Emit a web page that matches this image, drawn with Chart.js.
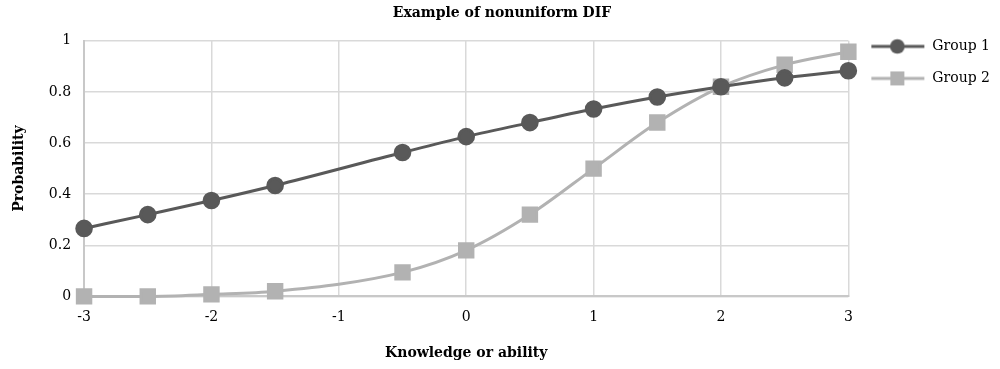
<!DOCTYPE html>
<html><head><meta charset="utf-8">
<script src="https://cdn.jsdelivr.net/npm/chart.js@4"></script>
<style>html,body{margin:0;padding:0;background:#fff}#wrap{width:1000px;height:369px}</style>
</head><body><div id="wrap"><canvas id="c" width="1000" height="369"></canvas></div>
<script>
const xValues = [-3, -2.5, -2, -1.5, -0.5, 0, 0.5, 1, 1.5, 2, 2.5, 3];
const group1 = [0.266, 0.32, 0.375, 0.434, 0.563, 0.625, 0.68, 0.733, 0.78, 0.82, 0.855, 0.883];
const group2 = [0.0, 0.0, 0.008, 0.02, 0.094, 0.18, 0.32, 0.5, 0.68, 0.82, 0.906, 0.957];
const seriesNames = ['Group 1', 'Group 2'];
const titleText = 'Example of nonuniform DIF';
const xTitle = 'Knowledge or ability';
const yTitle = 'Probability';

const FONT = "'DejaVu Serif', 'Liberation Serif', serif";
const C1 = '#595959', C2 = '#b2b2b2';

function legendIcon(color, style) {
  const cv = document.createElement('canvas');
  cv.width = 59; cv.height = 18;
  const g = cv.getContext('2d');
  g.strokeStyle = color; g.lineWidth = 3;
  g.beginPath(); g.moveTo(5, 9); g.lineTo(58, 9); g.stroke();
  g.fillStyle = color;
  if (style === 'circle') { g.beginPath(); g.arc(31, 9, 7.3, 0, Math.PI * 2); g.fill(); }
  else { g.fillRect(24, 2, 14, 14); }
  return cv;
}
const icons = [legendIcon(C1, 'circle'), legendIcon(C2, 'rect')];

const toPts = arr => arr.map((v, i) => ({x: xValues[i], y: v}));

new Chart(document.getElementById('c'), {
  type: 'line',
  data: {
    datasets: [
      {label: seriesNames[0], data: toPts(group1), borderColor: C1, backgroundColor: C1, clip: false,
       borderWidth: 3, pointStyle: 'circle', pointRadius: 7.3, pointHoverRadius: 7.3, cubicInterpolationMode: 'monotone'},
      {label: seriesNames[1], data: toPts(group2), borderColor: C2, backgroundColor: C2, clip: false,
       borderWidth: 3, pointStyle: 'rect', pointRadius: 9.5, pointHoverRadius: 9.5, cubicInterpolationMode: 'monotone'}
    ]
  },
  options: {
    responsive: false, animation: false,
    layout: {padding: {left: 4, right: 0, top: 0, bottom: 3}},
    plugins: {
      title: {display: true, text: titleText, color: '#000', font: {family: FONT, size: 14, weight: 'bold'}, padding: {top: 5, bottom: 19}},
      tooltip: {enabled: false},
      legend: {
        position: 'right', align: 'start',
        title: {display: true, text: '', font: {size: 12}, padding: {top: 3.5, bottom: 3.5}},
        labels: {
          usePointStyle: true, pointStyleWidth: 59, boxHeight: 14, padding: 18,
          color: '#000', font: {family: FONT, size: 14},
          generateLabels: chart => chart.data.datasets.map((d, i) => ({
            text: d.label, pointStyle: icons[i], fillStyle: d.borderColor, strokeStyle: d.borderColor,
            lineWidth: 0, datasetIndex: i, hidden: false, fontColor: '#000'
          }))
        }
      }
    },
    scales: {
      x: {
        type: 'linear', min: -3, max: 3,
        ticks: {stepSize: 1, color: '#000', font: {family: FONT, size: 14}, padding: 13},
        grid: {color: '#d9d9d9', lineWidth: 1.5, drawTicks: false},
        border: {color: '#c8c8c8', width: 2},
        title: {display: true, text: xTitle, color: '#000', font: {family: FONT, size: 14, weight: 'bold'}, padding: {top: 6, bottom: 4}}
      },
      y: {
        min: 0, max: 1,
        ticks: {stepSize: 0.2, color: '#000', font: {family: FONT, size: 14}, padding: 13,
                callback: v => String(+v.toFixed(1))},
        grid: {color: '#d9d9d9', lineWidth: 1.5, drawTicks: false},
        border: {color: '#c8c8c8', width: 2},
        title: {display: true, text: yTitle, color: '#000', font: {family: FONT, size: 14, weight: 'bold'}, padding: {top: 7, bottom: 8}}
      }
    }
  }
});
</script></body></html>
